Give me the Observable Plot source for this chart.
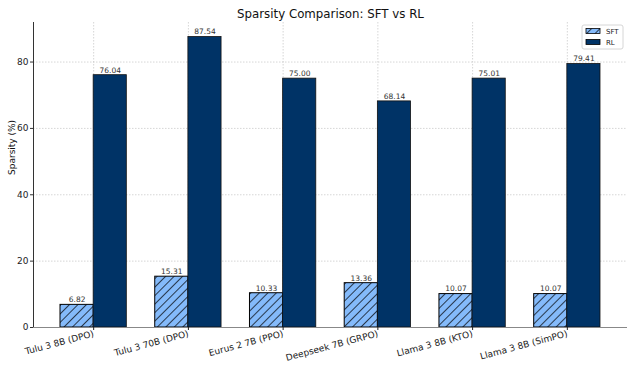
<!DOCTYPE html>
<html>
<head>
<meta charset="utf-8">
<script src="https://cdn.jsdelivr.net/npm/d3@7"></script>
<script src="https://cdn.jsdelivr.net/npm/@observablehq/plot@0.6"></script>
<style>
  body { margin: 0; background: #fff; }
  svg { font-family: "DejaVu Sans", sans-serif; }
</style>
</head>
<body>
<div id="chart"></div>
<script>
const models = ["Tulu 3 8B (DPO)", "Tulu 3 70B (DPO)", "Eurus 2 7B (PPO)", "Deepseek 7B (GRPO)", "Llama 3 8B (KTO)", "Llama 3 8B (SimPO)"];
const sftValues = [6.82, 15.31, 10.33, 13.36, 10.07, 10.07];
const rlValues = [76.04, 87.54, 75.00, 68.14, 75.01, 79.41];
const yTicks = [0, 20, 40, 60, 80];
const titleText = "Sparsity Comparison: SFT vs RL";
const yLabel = "Sparsity (%)";
const seriesNames = ["SFT", "RL"];

const barW = 0.35;
const sft = models.map((m, i) => ({i, model: m, value: sftValues[i], x1: i - barW, x2: i}));
const rl = models.map((m, i) => ({i, model: m, value: rlValues[i], x1: i, x2: i + barW}));
const allBars = sft.concat(rl);
const n = models.length;
const xPad = (n - 1 + 2 * barW) * 0.05;
const yMax = d3.max(rlValues.concat(sftValues)) * 1.05;

const plot = Plot.plot({
  width: 634,
  height: 370,
  marginLeft: 33,
  marginRight: 7,
  marginTop: 22,
  marginBottom: 43,
  style: {fontFamily: "DejaVu Sans, sans-serif", fontSize: "9px", color: "#222"},
  x: {type: "linear", domain: [-barW - xPad, n - 1 + barW + xPad]},
  y: {domain: [0, yMax]},
  marks: [
    Plot.gridY(yTicks, {stroke: "#bbb", strokeOpacity: 1, strokeDasharray: "1.5,1.5", strokeWidth: 0.6}),
    Plot.gridX(d3.range(n), {stroke: "#bbb", strokeOpacity: 1, strokeDasharray: "1.5,1.5", strokeWidth: 0.6}),
    Plot.rect(sft, {x1: "x1", x2: "x2", y1: 0, y2: "value", fill: "url(#sfthatch)", stroke: "#000", strokeWidth: 1}),
    Plot.rect(rl, {x1: "x1", x2: "x2", y1: 0, y2: "value", fill: "#003366", stroke: "#111", strokeWidth: 0.8}),
    Plot.text(allBars, {x: d => (d.x1 + d.x2) / 2, y: "value", text: d => d.value.toFixed(2), dy: -5, fontSize: 7.5, fill: "#333", textAnchor: "middle"}),
    Plot.ruleX([-barW - xPad], {stroke: "#333", strokeWidth: 1}),
    Plot.ruleY([0], {stroke: "#888", strokeWidth: 1.2}),
    Plot.axisY({ticks: yTicks, tickSize: 3, tickPadding: 2, fontSize: 9, label: null, stroke: "#333"}),
    Plot.axisX({ticks: d3.range(n), tickFormat: i => models[i], tickSize: 3, tickPadding: 3, tickRotate: -15, fontSize: 9, label: null}),
    Plot.text([titleText], {frameAnchor: "top", dy: -5, lineAnchor: "bottom", fontSize: 11.8, fill: "#111"}),
    Plot.text([yLabel], {frameAnchor: "left", dx: -21, rotate: -90, fontSize: 9, fill: "#111"})
  ]
});

// hatch pattern definition
const svg = d3.select(plot);
const defs = svg.insert("defs", ":first-child");
const pat = defs.append("pattern")
  .attr("id", "sfthatch")
  .attr("patternUnits", "userSpaceOnUse")
  .attr("width", 6)
  .attr("height", 6)
  .attr("patternTransform", "rotate(45)");
pat.append("rect").attr("width", 6).attr("height", 6).attr("fill", "#84bafa");
pat.append("line").attr("x1", 0).attr("y1", 0).attr("x2", 0).attr("y2", 6)
  .attr("stroke", "#000").attr("stroke-width", 1.4);

// legend
const lg = svg.append("g").attr("font-size", 7).attr("fill", "#222").attr("text-anchor", "start");
lg.append("rect").attr("x", 582).attr("y", 25).attr("width", 41).attr("height", 24)
  .attr("rx", 2).attr("fill", "#fff").attr("fill-opacity", 0.8).attr("stroke", "#ccc").attr("stroke-width", 0.8);
const colors = ["url(#sfthatch)", "#003366"];
seriesNames.forEach((s, k) => {
  const y = 28.5 + k * 11;
  lg.append("rect").attr("x", 586).attr("y", y).attr("width", 14).attr("height", 5)
    .attr("fill", colors[k]).attr("stroke", "#000").attr("stroke-width", 0.8);
  lg.append("text").attr("x", 606).attr("y", y + 5).attr("text-anchor", "start").text(s);
});

document.getElementById("chart").appendChild(plot);
</script>
</body>
</html>
